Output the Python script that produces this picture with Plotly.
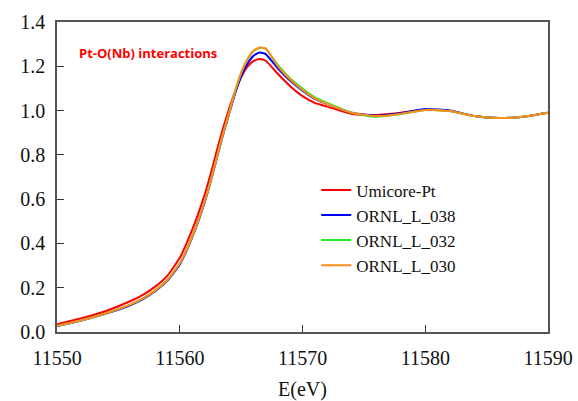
import plotly.graph_objects as go

energy = [11550, 11552, 11554, 11556, 11557, 11558, 11559, 11560, 11561, 11562, 11562.5,
          11563, 11563.5, 11564, 11564.5, 11565, 11565.5, 11566, 11566.5, 11567, 11568,
          11569, 11570, 11571, 11572, 11574, 11576, 11578, 11580, 11582, 11584, 11586,
          11588, 11590]

umicore_pt = [0.035, 0.062, 0.095, 0.14, 0.168, 0.205, 0.255, 0.335, 0.46, 0.615, 0.71,
              0.815, 0.915, 1.005, 1.085, 1.15, 1.197, 1.223, 1.233, 1.225, 1.165,
              1.11, 1.065, 1.035, 1.018, 0.985, 0.98, 0.99, 1.005, 0.998, 0.975, 0.966,
              0.972, 0.99]

ornl_038 = [0.027, 0.052, 0.083, 0.122, 0.149, 0.184, 0.232, 0.305, 0.425, 0.58, 0.675,
            0.78, 0.885, 0.98, 1.075, 1.155, 1.21, 1.247, 1.262, 1.255, 1.19,
            1.135, 1.09, 1.053, 1.03, 0.99, 0.977, 0.988, 1.007, 1.0, 0.976, 0.966,
            0.972, 0.99]

ornl_032 = [0.028, 0.053, 0.085, 0.125, 0.152, 0.188, 0.236, 0.31, 0.43, 0.585, 0.68,
            0.785, 0.89, 0.985, 1.085, 1.17, 1.23, 1.268, 1.283, 1.28, 1.205,
            1.145, 1.10, 1.06, 1.035, 0.99, 0.972, 0.984, 1.003, 0.998, 0.975, 0.966,
            0.972, 0.99]

ornl_030 = [0.028, 0.053, 0.085, 0.125, 0.152, 0.188, 0.236, 0.31, 0.43, 0.585, 0.68,
            0.785, 0.89, 0.985, 1.085, 1.17, 1.23, 1.27, 1.285, 1.28, 1.2,
            1.14, 1.093, 1.055, 1.03, 0.99, 0.975, 0.985, 1.003, 0.998, 0.975, 0.966,
            0.972, 0.99]

x_ticks = [11550, 11560, 11570, 11580, 11590]
y_ticks = [0, 0.2, 0.4, 0.6, 0.8, 1.0, 1.2, 1.4]

series = [
    ("Umicore-Pt", umicore_pt, "#ff0000"),
    ("ORNL_L_038", ornl_038, "#0000ff"),
    ("ORNL_L_032", ornl_032, "#22ee22"),
    ("ORNL_L_030", ornl_030, "#ff8c1a"),
]

fig = go.Figure()
for name, vals, color in series:
    fig.add_trace(go.Scatter(x=energy, y=vals, mode="lines", name=name,
                             line=dict(color=color, width=2, shape="spline", smoothing=0.5)))

serif = "Liberation Serif, Times New Roman, serif"
axis_common = dict(showline=True, linecolor="#555555", linewidth=1.5, mirror=True,
                   ticks="inside", ticklen=7, tickcolor="#333333", tickwidth=1,
                   showgrid=False, zeroline=False, automargin=False,
                   tickfont=dict(family=serif, size=20, color="#111111"))

fig.update_layout(
    template="none",
    width=578, height=401,
    margin=dict(l=57, r=30, t=22, b=69, autoexpand=False),
    paper_bgcolor="white", plot_bgcolor="white",
    font=dict(family=serif),
    xaxis=dict(range=[11550, 11590], tickvals=x_ticks, tickformat="d",
               ticklabelstandoff=7,
               title=dict(text="E(eV)", font=dict(family=serif, size=20, color="#111111"),
                          standoff=16),
               **axis_common),
    yaxis=dict(range=[0, 1.4], tickvals=y_ticks, tickformat=".1f",
               ticklabelstandoff=6, **axis_common),
    legend=dict(x=0.528, y=0.515, xanchor="left", yanchor="top",
                font=dict(family=serif, size=17, color="#111111"),
                bgcolor="rgba(0,0,0,0)", tracegroupgap=0),
    showlegend=True,
    annotations=[dict(text="<b>Pt-O(Nb) interactions</b>", xref="paper", yref="paper",
                      x=0.04, y=0.9, xanchor="left", yanchor="middle", showarrow=False,
                      font=dict(family="Open Sans", size=13, color="#ff0000"))],
)

fig.write_html("out.html")
